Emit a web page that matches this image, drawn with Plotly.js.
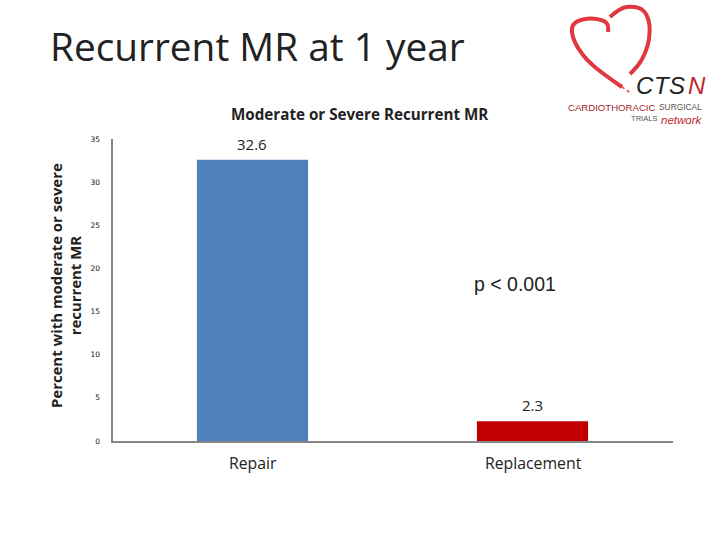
<!DOCTYPE html>
<html><head><meta charset="utf-8"><script src="https://cdn.plot.ly/plotly-3.0.1.min.js"></script>
<style>html,body{margin:0;padding:0;background:#fff}</style></head><body><div id="c" style="width:720px;height:540px"></div>
<script>
const categories = ["Repair","Replacement"];
const values = [32.6,2.3];
const valueLabels = ["32.6","2.3"];
const barColors = ["#4f81bd","#c00000"];
const tickVals = [0,5,10,15,20,25,30,35];
const W = 720, H = 540;
const px = x => x / W, py = y => 1 - y / H;
const text = (x,y,t,size,family,color,anchor,extra) => Object.assign({xref:"paper",yref:"paper",x:px(x),y:py(y),xanchor:anchor||"center",yanchor:"middle",text:t,showarrow:false,font:{family,size,color}},extra||{});
// heart logo outline, in page pixels
const heartLeft = [[622,87],[606,76],[586,60],[574,42],[571,28],[576,21],[590,18],[603,20],[609,25],[608,32]];
const heartRight = [[610,17],[620,8],[633,6],[644,10],[649,20],[650,32],[648,46],[642,60],[636,68],[630,74]];
const fmt = p => px(p[0]).toFixed(4)+" "+py(p[1]).toFixed(4);
const curve = pts => {
  let d = "M"+fmt(pts[0]);
  for (let i=1;i<pts.length-1;i++) {
    const mid = [(pts[i][0]+pts[i+1][0])/2,(pts[i][1]+pts[i+1][1])/2];
    d += " Q"+fmt(pts[i])+" "+fmt(i===pts.length-2?pts[i+1]:mid);
  }
  return d;
};
const heartShape = (pts,w) => ({type:"path",xref:"paper",yref:"paper",path:curve(pts),line:{color:"#e0383e",width:w}});
const trace = {type:"bar",x:categories,y:values,marker:{color:barColors},width:0.397,hoverinfo:"none"};
const layout = {
 width:W,height:H,margin:{l:0,r:0,t:0,b:0},paper_bgcolor:"#fff",plot_bgcolor:"#fff",showlegend:false,
 xaxis:{domain:[112.5/W,672.5/W],range:[-0.5,1.5],type:"category",showline:true,linecolor:"#868686",linewidth:2,ticks:"",showticklabels:false},
 yaxis:{domain:[(H-441)/H,(H-139)/H],range:[0,35],tickvals:tickVals,showgrid:false,zeroline:false,showline:true,linecolor:"#868686",linewidth:2,ticks:"",tickfont:{family:"DejaVu Sans",size:7.5,color:"#111"},ticklabelstandoff:9},
 shapes:[heartShape(heartLeft,4),heartShape(heartRight,4),
  {type:"path",xref:"paper",yref:"paper",path:"M"+fmt([622,87])+" L"+fmt([632,94]),line:{color:"#e0383e",width:1.5,dash:"dot"}}],
 annotations:[
  text(48,46,"Recurrent MR at 1 year",38.8,"Open Sans","#222","left"),
  text(360,114,"<b>Moderate or Severe Recurrent MR</b>",15.2,"Open Sans","#222"),
  text(65,286,"<b>Percent with moderate or severe<br>recurrent MR</b>",14.9,"Open Sans","#222","center",{textangle:-90}),
  text(252,144,valueLabels[0],15,"Open Sans","#222"),
  text(532,405,valueLabels[1],15,"Open Sans","#222"),
  text(253,463,categories[0],15.8,"Open Sans","#222"),
  text(533,463,categories[1],15.8,"Open Sans","#222"),
  text(515,284,"p &lt; 0.001",19.5,"Liberation Sans","#222"),
  text(634,85,"<i>C</i>",24,"Liberation Sans","#222","left"),
  text(652,85,"<i>T</i>",24,"Liberation Sans","#222","left"),
  text(667,85,"<i>S</i>",24,"Liberation Sans","#222","left"),
  text(686,85,"<i>N</i>",24,"Liberation Sans","#c0272d","left"),
  text(566,107,"CARDIOTHORACIC",9.6,"Liberation Sans","#a3262b","left"),
  text(704,107,"SURGICAL",8.4,"Liberation Sans","#555","right"),
  text(629,118,"TRIALS",7.6,"Liberation Sans","#555","left"),
  text(705,120,"<i>network</i>",11.5,"Liberation Sans","#c0272d","right")
 ]
};
Plotly.newPlot("c",[trace],layout,{displayModeBar:false,staticPlot:true});
</script></body></html>
